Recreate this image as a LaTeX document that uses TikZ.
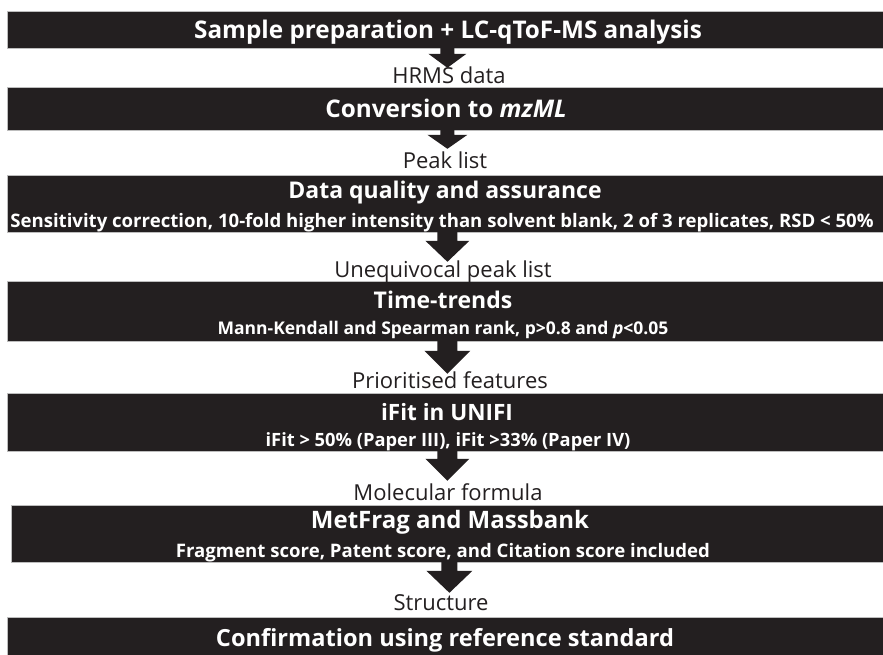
\documentclass[tikz,border=0pt]{standalone}
\usepackage{fontspec}
\setmainfont{Open Sans}
\usetikzlibrary{calc}
\definecolor{boxfill}{HTML}{231F20}
\definecolor{boxline}{HTML}{BDBDBD}
\definecolor{labtext}{HTML}{231F20}
\tikzset{
  stagebox/.style={draw=boxline, line width=0.8pt, fill=boxfill, inner sep=0pt, anchor=north west},
  title/.style={text=white, font=\bfseries\fontsize{#1}{#1}\selectfont, anchor=base, inner sep=0pt},
  title/.default=24,
  subtitle/.style={text=white, font=\bfseries\fontsize{#1}{#1}\selectfont, anchor=base, inner sep=0pt},
  subtitle/.default=18.5,
  flowlabel/.style={text=labtext, font=\fontsize{22}{22}\selectfont, anchor=base, inner sep=0pt},
  blockarrow/.style={fill=boxfill, draw=none}
}
% #1 box name, #2 head-base offset, #3 tip offset, #4 stem half width, #5 head half width, #6 tip coordinate name
\newcommand\flowarrow[6]{%
  \coordinate (#6) at ($(#1.south)+(0,#3)$);
  \fill[blockarrow] ($(#1.south)+(-#4,-2)$) -- ($(#1.south)+(-#4,#2)$) -- ($(#1.south)+(-#5,#2)$)
    -- (#6) -- ($(#1.south)+(#5,#2)$) -- ($(#1.south)+(#4,#2)$) -- ($(#1.south)+(#4,-2)$) -- cycle;}
\begin{document}
\begin{tikzpicture}[x=1pt,y=-1pt]
\useasboundingbox (0,0) rectangle (883,654);
% boxes
\node[stagebox, minimum width=880pt, minimum height=37pt] (b1) at (7,11) {};
\node[stagebox, minimum width=880pt, minimum height=43pt] (b2) at (7,87) {};
\node[stagebox, minimum width=880pt, minimum height=57pt] (b3) at (7,175) {};
\node[stagebox, minimum width=880pt, minimum height=60pt] (b4) at (7,281) {};
\node[stagebox, minimum width=880pt, minimum height=58pt] (b5) at (7,393) {};
\node[stagebox, minimum width=876pt, minimum height=57pt] (b6) at (11,505) {};
\node[stagebox, minimum width=880pt, minimum height=40pt] (b7) at (7,617) {};
% arrows
\flowarrow{b1}{5}{19}{7}{19}{p1}
\flowarrow{b2}{4}{18}{7}{20}{p2}
\flowarrow{b3}{8}{29}{10}{22}{p3}
\flowarrow{b4}{9}{32}{10}{23}{p4}
\flowarrow{b5}{7}{29}{10}{22}{p5}
\flowarrow{b6}{8}{30}{8}{23}{p6}
% titles
\node[title=24.3] (t1) at (448,38) {Sample preparation + LC-qToF-MS analysis};
\node[title=24.3] (t2) at (446,117) {Conversion to \textit{mzML}};
\node[title=23] (t3) at (445,198) {Data quality and assurance};
\node[subtitle=18.6] (s3) at (442,227) {Sensitivity correction, 10-fold higher intensity than solvent blank, 2 of 3 replicates, RSD < 50\%};
\node[title=23] (t4) at (443,308) {Time-trends};
\node[subtitle=17.5] (s4) at (443,334) {Mann-Kendall and Spearman rank, p>0.8 and \textit{p}<0.05};
\node[title=22.5] (t5) at (447,420) {iFit in UNIFI};
\node[subtitle=18.3] (s5) at (448,446) {iFit > 50\% (Paper III), iFit >33\% (Paper IV)};
\node[title=24] (t6) at (450,528) {MetFrag and Massbank};
\node[subtitle=18.6] (s6) at (443,557) {Fragment score, Patent score, and Citation score included};
\node[title=23.6] (t7) at (445,646) {Confirmation using reference standard};
% labels
\node[flowlabel] (l1) at (449,83) {HRMS data};
\node[flowlabel] (l2) at (445,168) {Peak list};
\node[flowlabel] (l3) at (443,277) {Unequivocal peak list};
\node[flowlabel] (l4) at (450,388) {Prioritised features};
\node[flowlabel] (l5) at (448,500) {Molecular formula};
\node[flowlabel] (l6) at (441,610) {Structure};
\end{tikzpicture}
\end{document}
